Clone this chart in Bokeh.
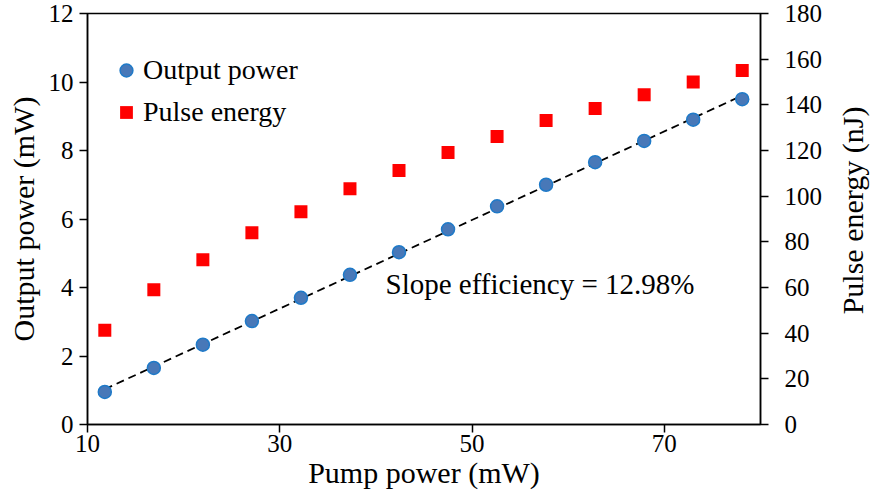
import math
import numpy as np
from bokeh.plotting import figure
from bokeh.models import (Range1d, LinearAxis, FixedTicker, Legend, LegendItem, Label)
from bokeh.embed import file_html
from bokeh.resources import INLINE

# ---- data ----
pump_power = [11.8, 16.9, 22.0, 27.1, 32.2, 37.3, 42.4, 47.5, 52.6, 57.7, 62.8, 67.9, 73.0, 78.1]
output_power = [0.95, 1.65, 2.33, 3.02, 3.70, 4.37, 5.03, 5.70, 6.37, 7.00, 7.66, 8.28, 8.90, 9.50]
pulse_energy = [41.3, 59.0, 72.1, 84.0, 93.2, 103.3, 111.2, 119.1, 126.1, 133.1, 138.4, 144.4, 150.0, 155.0]
x_ticks = [10, 30, 50, 70]
left_ticks = [0, 2, 4, 6, 8, 10, 12]
right_ticks = [0, 20, 40, 60, 80, 100, 120, 140, 160, 180]
slope_text = "Slope efficiency  =  12.98%"
right_label = "Pulse energy (nJ)"

FONT = "Liberation Serif"

p = figure(width=871, height=496, output_backend="svg", toolbar_location=None,
           x_range=Range1d(10, 80), y_range=Range1d(0, 12),
           min_border_left=87, min_border_right=111, min_border_top=13, min_border_bottom=72)
p.extra_y_ranges = {"energy": Range1d(0, 180)}

p.grid.visible = False
p.outline_line_color = "black"
p.outline_line_width = 1.5
p.background_fill_color = "white"
p.border_fill_color = "white"

def style_axis(ax, ticks, label, standoff, label_standoff):
    ax.ticker = FixedTicker(ticks=ticks)
    ax.axis_label = label
    ax.axis_label_text_font = FONT
    ax.axis_label_text_font_size = "30px"
    ax.axis_label_text_font_style = "normal"
    ax.axis_label_text_color = "black"
    ax.axis_label_standoff = label_standoff
    ax.major_label_text_font = FONT
    ax.major_label_text_font_size = "25px"
    ax.major_label_text_color = "black"
    ax.major_label_standoff = standoff
    ax.major_tick_out = 8
    ax.major_tick_in = 0
    ax.minor_tick_out = 0
    ax.minor_tick_in = 0
    ax.axis_line_width = 1.5
    ax.major_tick_line_width = 1.5
    ax.axis_line_color = "black"
    ax.major_tick_line_color = "black"

style_axis(p.xaxis[0], x_ticks, "Pump power (mW)", 2, 1)
style_axis(p.yaxis[0], left_ticks, "Output power (mW)", 6, 6)

right_axis = LinearAxis(y_range_name="energy")
style_axis(right_axis, right_ticks, None, 16, 0)
p.add_layout(right_axis, "right")

# linear fit
k, b = np.polyfit(pump_power, output_power, 1)
fit_x = [pump_power[0], pump_power[-1]]
fit_y = [k * fit_x[0] + b, k * fit_x[1] + b]
p.line(fit_x, fit_y, line_color="black", line_width=1.8, line_dash="8 5")

r_out = p.scatter(pump_power, output_power, marker="circle", size=13,
                  fill_color="#4878b8", line_color="#1f7ac8", line_width=1.5)
r_pe = p.scatter(pump_power, pulse_energy, marker="square", size=13,
                 fill_color="#ff0000", line_color=None, y_range_name="energy")

legend = Legend(items=[LegendItem(label="Output power", renderers=[r_out]),
                       LegendItem(label="Pulse energy", renderers=[r_pe])],
                location=(23, 296))
legend.label_text_font = FONT
legend.label_text_font_size = "28px"
legend.label_text_color = "black"
legend.glyph_width = 32
legend.glyph_height = 32
legend.label_height = 32
legend.spacing = 10
legend.label_standoff = 1
legend.padding = 0
legend.margin = 0
legend.border_line_color = None
legend.background_fill_alpha = 0
p.add_layout(legend, "center")

p.add_layout(Label(x=41.0, y=4.1, text=slope_text, text_font=FONT, text_font_size="29px",
                   text_color="black", text_baseline="alphabetic", text_align="left"))

# right-hand axis title, reading bottom to top, in its own side panel
p.add_layout(Label(x=27, y=214, x_units="screen", y_units="screen", text=right_label,
                   angle=math.pi / 2, text_font=FONT, text_font_size="30px",
                   text_color="black", text_align="center", text_baseline="middle"), "right")

open("out.html", "w").write(file_html(p, INLINE))
